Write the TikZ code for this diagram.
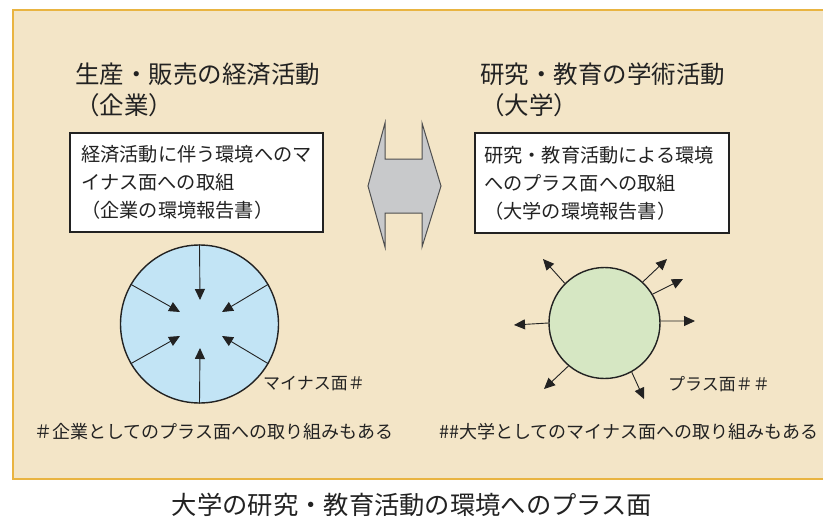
\documentclass[tikz,border=0pt]{standalone}
\usepackage{fontspec}
\setmainfont{Noto Sans CJK JP}
\usetikzlibrary{arrows.meta}
\definecolor{panelfill}{HTML}{F3E5C7}
\definecolor{panelline}{HTML}{E9B441}
\definecolor{bluefill}{HTML}{C2E4F5}
\definecolor{greenfill}{HTML}{D6E7C3}
\definecolor{grayfill}{HTML}{C8C9CB}
\definecolor{ink}{HTML}{222222}
\begin{document}
\begin{tikzpicture}[x=1pt,y=-1pt,
  txt/.style={anchor=west,inner sep=0pt,text=ink},
  title/.style={txt,font=\fontsize{24.5}{24.5}\selectfont},
  boxtxt/.style={txt,font=\fontsize{19.2}{19.2}\selectfont},
  labtxt/.style={txt,font=\fontsize{17}{17}\selectfont},
  notetxt/.style={txt,font=\fontsize{18}{18}\selectfont},
  frame/.style={draw=ink,line width=1.1pt,fill=white},
  disk/.style={circle,draw=ink,line width=1.4pt,inner sep=0pt},
  arr/.style={draw=ink,line width=0.9pt,-{Triangle[length=11pt,width=10pt]}}]
\useasboundingbox (0,0) rectangle (823,520);
\begin{scope}
\clip (0,0) rectangle (823,520);
\draw[fill=panelfill,draw=panelline,line width=2pt] (13,10) rectangle (840,479);
\end{scope}
% titles
\node[title] (t1) at (75,74) {生産・販売の経済活動};
\node[title] (t2) at (75,105) {（企業）};
\node[title] (t3) at (480,74) {研究・教育の学術活動};
\node[title] (t4) at (480,105) {（大学）};
% boxes
\draw[frame] (70,133) rectangle (323,232);
\node[boxtxt] (b1) at (81,154) {経済活動に伴う環境へのマ};
\node[boxtxt] (b2) at (81,182) {イナス面への取組};
\node[boxtxt] (b3) at (81,210) {（企業の環境報告書）};
\draw[frame] (475,133) rectangle (729,233);
\node[boxtxt] (c1) at (484,155) {研究・教育活動による環境};
\node[boxtxt] (c2) at (484,183) {へのプラス面への取組};
\node[boxtxt] (c3) at (484,211) {（大学の環境報告書）};
% double arrow shape
\draw[fill=grayfill,draw=ink!80,line width=1pt,line join=miter]
  (385,123) -- (385,159) -- (422,159) -- (422,123) -- (441,186) -- (422,247)
  -- (422,213) -- (385,213) -- (385,247) -- (368,186) -- cycle;
% left circle
\node[disk,fill=bluefill,minimum size=158pt] (lc) at (199.5,324) {};
\coordinate (lt1) at (200,300);
\coordinate (lt2) at (200,348);
\coordinate (lt3) at (180,312);
\coordinate (lt4) at (222,312);
\coordinate (lt5) at (180,336);
\coordinate (lt6) at (222,336);
\draw[arr] (lc.90) -- (lt1);
\draw[arr] (lc.270) -- (lt2);
\draw[arr] (lc.150) -- (lt3);
\draw[arr] (lc.30) -- (lt4);
\draw[arr] (lc.210) -- (lt5);
\draw[arr] (lc.330) -- (lt6);
% right circle
\node[disk,fill=greenfill,minimum size=111pt] (rc) at (604.5,323) {};
\coordinate (rt1) at (543,259);
\coordinate (rt2) at (667,259);
\coordinate (rt3) at (683,279);
\coordinate (rt4) at (695,321);
\coordinate (rt5) at (514,325);
\coordinate (rt6) at (544,389);
\coordinate (rt7) at (644,399);
\draw[arr] (rc.135) -- (rt1);
\draw[arr] (rc.47) -- (rt2);
\draw[arr] (rc.31) -- (rt3);
\draw[arr] (rc.2) -- (rt4);
\draw[arr] (rc.180) -- (rt5);
\draw[arr] (rc.230) -- (rt6);
\draw[arr] (rc.299) -- (rt7);
% labels
\node[labtxt] (l1) at (263,384) {マイナス面＃};
\node[labtxt] (l2) at (668,384) {プラス面＃＃};
\node[notetxt] (n1) at (34,432) {＃企業としてのプラス面への取り組みもある};
\node[notetxt] (n2) at (439,432) {\#\#大学としてのマイナス面への取り組みもある};
\node[inner sep=0pt,text=ink,font=\fontsize{25.3}{25.3}\selectfont] (bt) at (412,505) {大学の研究・教育活動の環境へのプラス面};
\end{tikzpicture}
\end{document}
